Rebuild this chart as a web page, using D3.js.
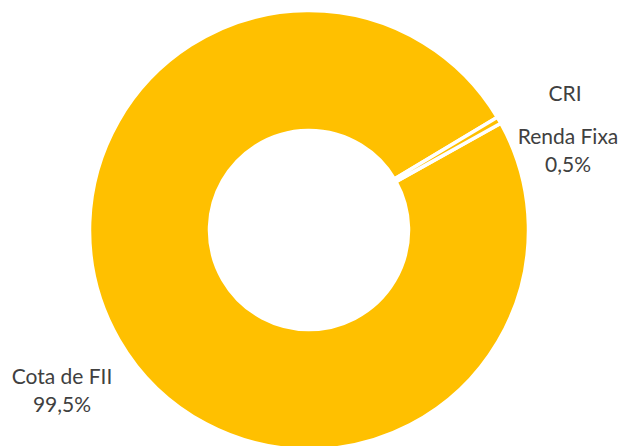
<!DOCTYPE html>
<html>
<head>
<meta charset="utf-8">
<script src="https://cdn.jsdelivr.net/npm/d3@7"></script>
<style>
  html, body { margin: 0; padding: 0; background: #ffffff; }
  svg { display: block; }
  text { font-family: Lato, "Open Sans", sans-serif; fill: #404040; }
</style>
</head>
<body>
<svg id="chart" width="625" height="446"></svg>
<script>
// Portfolio allocation by asset type (%)
const categories = ["Cota de FII", "CRI", "Renda Fixa"];
const values = [99.5, 0.0, 0.5];
const valueLabels = ["99,5%", "", "0,5%"];

const width = 625, height = 446;
const cx = 309, cy = 230;
const outerR = 219.5, innerR = 99.5;
const startDeg = 60.9;

const svg = d3.select("#chart");
const g = svg.append("g").attr("transform", `translate(${cx},${cy})`);

const data = categories.map((c, i) => ({ name: c, value: values[i], label: valueLabels[i] }));

const pie = d3.pie()
  .sort(null)
  .value(d => d.value)
  .startAngle(startDeg * Math.PI / 180)
  .endAngle(startDeg * Math.PI / 180 + 2 * Math.PI);

const arc = d3.arc().innerRadius(innerR).outerRadius(outerR);

g.selectAll("path.slice")
  .data(pie(data).filter(d => d.data.value > 0))
  .join("path")
  .attr("class", "slice")
  .attr("d", arc)
  .attr("fill", "#FFC000")
  .attr("stroke", "#ffffff")
  .attr("stroke-width", 3.5)
  .attr("stroke-linejoin", "round");

// Data labels placed outside the ring
const labelPos = {
  "Cota de FII": [62, 384],
  "CRI": [565, 101],
  "Renda Fixa": [568, 144]
};

const lineH = 28;
data.forEach(d => {
  const [x, y] = labelPos[d.name];
  const t = svg.append("text")
    .attr("x", x)
    .attr("y", y)
    .attr("text-anchor", "middle")
    .attr("font-size", 21);
  t.append("tspan").attr("x", x).text(d.name);
  if (d.label) {
    t.append("tspan").attr("x", x).attr("dy", lineH).text(d.label);
  }
});
</script>
</body>
</html>
